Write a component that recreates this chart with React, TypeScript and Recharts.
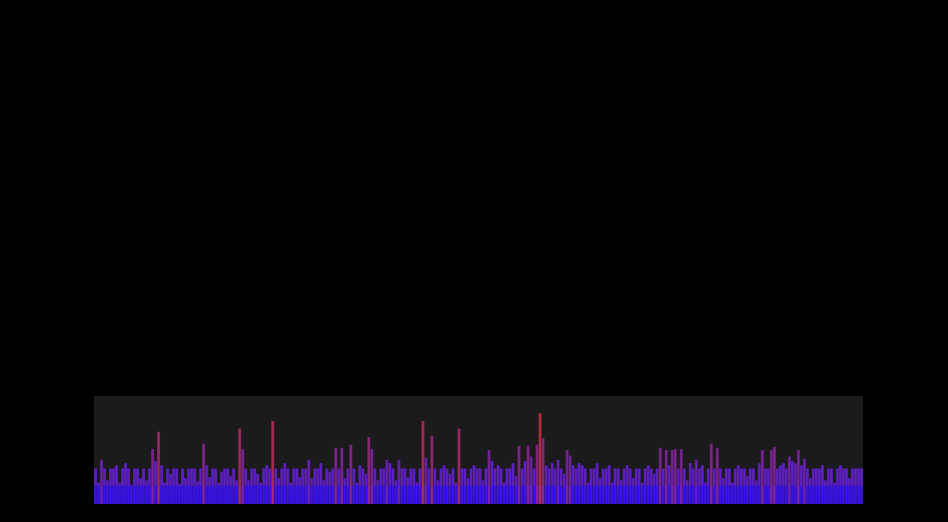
import { ComposedChart, Bar, Area, Cell, XAxis, YAxis, CartesianGrid } from 'recharts';

// level of every bin (0-100 scale), 16 bins per row
const levels: number[] = [
  33, 20, 41, 33, 22, 33, 33, 36, 20, 33, 38, 33, 18, 33, 33, 24,
  33, 22, 33, 51, 40, 67, 36, 20, 33, 28, 33, 33, 19, 33, 24, 33,
  33, 33, 21, 33, 56, 36, 25, 33, 33, 20, 30, 33, 33, 26, 33, 22,
  70, 51, 33, 22, 33, 33, 28, 20, 33, 36, 33, 77, 33, 24, 33, 38,
  33, 20, 33, 33, 25, 33, 33, 41, 24, 33, 33, 38, 22, 33, 30, 33,
  52, 33, 52, 24, 33, 55, 33, 20, 36, 33, 28, 62, 51, 33, 22, 33,
  33, 41, 38, 33, 22, 41, 33, 33, 25, 33, 33, 20, 33, 77, 43, 33,
  63, 33, 22, 33, 36, 33, 28, 33, 20, 70, 33, 33, 24, 33, 36, 33,
  33, 22, 33, 50, 40, 33, 36, 33, 20, 33, 33, 38, 26, 54, 33, 40,
  54, 44, 33, 55, 84, 61, 36, 33, 38, 33, 41, 33, 28, 50, 45, 36,
  33, 38, 36, 33, 20, 33, 33, 38, 24, 33, 33, 36, 20, 33, 33, 22,
  33, 36, 33, 24, 33, 33, 20, 33, 36, 33, 28, 33, 52, 33, 50, 36,
  50, 51, 33, 51, 33, 22, 38, 33, 41, 33, 36, 20, 33, 56, 33, 52,
  33, 24, 33, 33, 20, 33, 36, 33, 33, 26, 33, 33, 22, 38, 50, 33,
  33, 50, 53, 33, 36, 38, 33, 44, 40, 38, 50, 36, 42, 33, 24, 33,
  33, 33, 36, 22, 33, 33, 20, 33, 36, 33, 33, 24, 33, 33, 33, 33,
];

// the solid blue floor underneath
const floor: number[] = [
  17, 17, 16, 17, 17, 15, 17, 17, 17, 16, 17, 17, 17, 17, 14, 17,
  17, 17, 17, 16, 17, 17, 17, 15, 17, 17, 16, 17, 17, 17, 17, 17,
  16, 17, 17, 17, 17, 14, 17, 17, 17, 17, 17, 16, 17, 17, 17, 17,
  17, 17, 15, 17, 17, 17, 17, 17, 16, 17, 17, 17, 17, 15, 17, 17,
  17, 17, 17, 17, 17, 16, 17, 17, 17, 17, 17, 17, 17, 17, 17, 16,
  17, 17, 17, 16, 17, 17, 17, 17, 17, 17, 14, 17, 17, 17, 17, 17,
  17, 16, 17, 17, 17, 17, 17, 17, 16, 17, 17, 17, 17, 17, 17, 17,
  17, 17, 17, 17, 16, 17, 17, 17, 17, 17, 17, 16, 17, 17, 17, 17,
  17, 17, 17, 17, 17, 17, 16, 17, 17, 17, 17, 17, 17, 17, 16, 17,
  17, 17, 16, 17, 17, 17, 17, 17, 17, 17, 17, 15, 17, 17, 17, 17,
  17, 17, 17, 17, 17, 16, 17, 17, 17, 17, 17, 17, 17, 16, 17, 17,
  17, 16, 17, 17, 17, 17, 17, 17, 17, 17, 17, 17, 17, 17, 17, 16,
  17, 17, 17, 17, 17, 17, 17, 16, 17, 17, 17, 17, 17, 17, 17, 17,
  17, 17, 17, 15, 17, 17, 17, 17, 17, 17, 17, 17, 16, 17, 17, 17,
  17, 17, 17, 17, 17, 17, 16, 17, 17, 17, 17, 17, 17, 17, 17, 17,
  17, 17, 17, 17, 16, 17, 17, 17, 17, 17, 17, 17, 17, 17, 16, 17,
];

const data = levels.map((v, i) => ({ bin: i, level: v, floor: floor[i] }));

// spikes get their own colour, purple shading to red as they get taller
const colorFor = (v: number) => {
  const t = Math.max(0, Math.min(1, (v - 33) / 51));
  const r = Math.round(98 + t * 102);
  const g = Math.round(32 + t * 18);
  const b = Math.round(212 - t * 142);
  return `rgb(${r},${g},${b})`;
};

const App = () => {
  return (
    <div style={{ position: 'fixed', left: 0, top: 0, width: 948, height: 522, background: '#000' }}>
      <ComposedChart
        width={948}
        height={522}
        data={data}
        margin={{ top: 396, right: 85, bottom: 18, left: 94 }}
        barCategoryGap={0}
        barGap={0}
      >
        <defs>
          <linearGradient id="band" gradientUnits="userSpaceOnUse" x1="0" y1="396" x2="0" y2="504">
            <stop offset="0%" stopColor="#6a22d6" />
            <stop offset="82%" stopColor="#6420d2" />
            <stop offset="84%" stopColor="#3c12e8" />
            <stop offset="100%" stopColor="#3a12ea" />
          </linearGradient>
        </defs>
        <CartesianGrid fill="#1b1b1b" stroke="none" horizontal={false} vertical={false} />
        <XAxis dataKey="bin" hide />
        <YAxis hide domain={[0, 100]} />
        <Area
          type="step"
          dataKey="floor"
          stroke="none"
          fill="#3a12ea"
          fillOpacity={1}
          isAnimationActive={false}
        />
        <Bar dataKey="level" isAnimationActive={false}>
          {data.map((d, i) => (
            <Cell
              key={`bin-${i}`}
              fill={d.level > 40 ? colorFor(d.level) : 'url(#band)'}
              fillOpacity={d.level > 40 ? 0.85 : 0.9}
              stroke="#1b1b1b"
              strokeOpacity={0.4}
              strokeWidth={0.5}
            />
          ))}
        </Bar>
      </ComposedChart>
    </div>
  );
};

export default App;
